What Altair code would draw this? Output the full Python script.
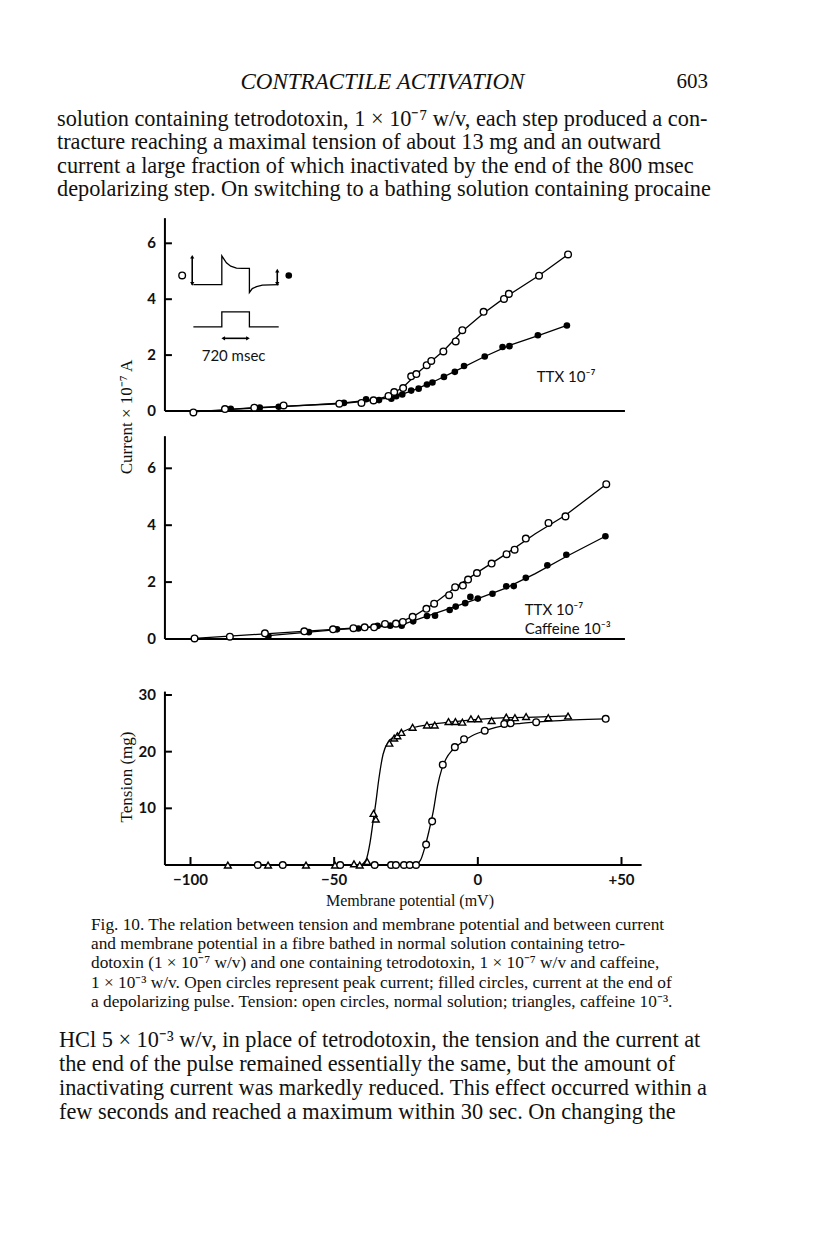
import altair as alt
import pandas as pd

# ---------------- data ----------------
# Top panel (TTX 1e-7): open = peak current, filled = current at end of pulse (x 1e-7 A)
top_open_x = [-99.0, -88.0, -77.8, -67.6, -48.2, -40.5, -36.3, -31.1, -29.1, -26.0, -23.2,
              -21.4, -17.8, -16.2, -12.0, -7.7, -5.4, 2.0, 9.1, 10.8, 21.3, 31.4]
top_open_y = [-0.05, 0.07, 0.12, 0.20, 0.26, 0.29, 0.38, 0.54, 0.68, 0.82, 1.24,
              1.32, 1.64, 1.79, 2.13, 2.49, 2.89, 3.55, 4.01, 4.19, 4.84, 5.60]
top_filled_x = [-86.0, -75.9, -69.3, -46.6, -38.9, -34.4, -30.1, -28.4, -26.3, -23.2, -20.6,
                -17.7, -15.8, -11.8, -8.0, -4.8, 2.4, 8.6, 11.0, 20.9, 31.0]
top_filled_y = [0.08, 0.12, 0.15, 0.29, 0.42, 0.39, 0.44, 0.53, 0.59, 0.73, 0.80,
                0.95, 1.02, 1.22, 1.40, 1.61, 1.95, 2.29, 2.32, 2.71, 3.06]
top_open_fit_x = [-99.0, -77.8, -48.2, -36.3, -31.1, -26.0, -20.0, -12.0, -5.4, 2.0, 10.0, 21.3, 31.4]
top_open_fit_y = [-0.03, 0.12, 0.26, 0.38, 0.54, 0.85, 1.45, 2.15, 2.85, 3.50, 4.10, 4.85, 5.60]
top_filled_fit_x = [-86.0, -69.3, -46.6, -38.9, -30.0, -23.0, -15.8, -8.0, 2.4, 11.0, 21.0, 31.0]
top_filled_fit_y = [0.06, 0.15, 0.29, 0.38, 0.47, 0.72, 1.03, 1.42, 1.95, 2.35, 2.70, 3.06]

# Middle panel (TTX 1e-7 + caffeine 1e-3)
mid_open_x = [-98.6, -86.3, -74.1, -60.4, -50.4, -43.3, -39.4, -36.1, -32.3, -28.5, -26.1, -22.7, -17.9,
              -15.2, -10.0, -7.9, -5.2, -3.4, -0.3, 4.8, 10.0, 12.8, 16.7, 24.6, 30.5, 44.7]
mid_open_y = [0.02, 0.08, 0.20, 0.27, 0.34, 0.38, 0.41, 0.41, 0.53, 0.54, 0.60, 0.78, 1.06,
              1.24, 1.54, 1.82, 1.88, 2.09, 2.32, 2.65, 2.98, 3.14, 3.53, 4.08, 4.31, 5.44]
mid_filled_x = [-72.9, -58.8, -49.0, -41.6, -34.9, -30.5, -26.5, -22.5, -17.7, -14.9, -9.8,
                -7.7, -4.4, -2.6, 0.0, 5.1, 9.9, 12.5, 16.7, 24.2, 30.8, 44.4]
mid_filled_y = [0.10, 0.24, 0.34, 0.37, 0.46, 0.47, 0.47, 0.62, 0.81, 0.82, 1.02,
                1.14, 1.26, 1.48, 1.42, 1.59, 1.85, 1.86, 2.15, 2.59, 2.96, 3.61]
mid_open_fit_x = [-98.6, -74.1, -50.4, -36.0, -28.5, -22.7, -15.2, -8.0, 0.0, 10.0, 20.0, 30.5, 44.7]
mid_open_fit_y = [0.02, 0.18, 0.34, 0.43, 0.55, 0.78, 1.25, 1.80, 2.35, 3.00, 3.70, 4.35, 5.44]
mid_filled_fit_x = [-72.9, -58.8, -49.0, -35.0, -26.5, -17.7, -7.7, 0.0, 10.0, 20.0, 30.8, 44.4]
mid_filled_fit_y = [0.12, 0.24, 0.33, 0.43, 0.50, 0.80, 1.15, 1.42, 1.80, 2.30, 2.90, 3.61]

# Bottom panel: tension (mg); circles = normal solution, triangles = caffeine 1e-3
norm_x = [-76.6, -67.9, -47.9, -35.9, -30.2, -28.5, -25.7, -23.7, -21.5, -18.0, -15.9, -12.2,
          -8.0, -4.8, 2.4, 9.2, 11.4, 20.3, 44.5]
norm_y = [0, 0, 0, 0, 0, 0, 0, 0, 0, 3.6, 7.7, 17.7, 20.8, 22.2, 23.7, 24.9, 25.0, 25.2, 25.8]
caf_x = [-87.0, -73.0, -59.8, -49.7, -43.1, -41.1, -38.5, -36.3, -35.5, -30.8, -29.1, -28.0, -26.6,
         -22.7, -17.7, -15.0, -10.2, -7.8, -5.4, -2.4, 0.2, 4.8, 9.9, 12.9, 16.8, 24.5, 31.4]
caf_y = [0, 0, 0, 0, 0.2, 0, 0.6, 9.1, 8.1, 21.5, 22.4, 22.8, 23.4,
         24.3, 24.7, 24.7, 25.3, 25.3, 25.2, 25.8, 25.8, 25.5, 26.1, 26.0, 26.2, 26.0, 26.3]
norm_fit_x = [-76.6, -22.0, -20.0, -18.5, -17.0, -15.5, -14.0, -12.5, -11.0, -9.0, -6.0, -2.0,
              3.0, 9.0, 15.0, 25.0, 44.5]
norm_fit_y = [0, 0, 0.8, 3.0, 6.0, 9.5, 14.0, 17.0, 18.8, 20.2, 21.5, 22.8, 23.8, 24.6, 25.0, 25.4, 25.8]
caf_fit_x = [-87.0, -41.0, -39.0, -37.5, -36.5, -35.5, -34.5, -33.0, -31.0, -28.0, -24.0, -18.0,
             -10.0, 0.0, 10.0, 20.0, 31.4]
caf_fit_y = [0, 0, 0.8, 4.0, 7.5, 11.0, 15.0, 19.5, 21.8, 23.0, 24.0, 24.7, 25.2, 25.7, 26.0, 26.1, 26.3]

# Inset schematic (top panel, in plot units)
trace_x = [-99.0, -89.1, -89.1, -87.5, -86.0, -84.0, -82.0, -79.5, -79.5, -78.5, -77.0, -75.0, -69.3]
trace_y = [4.52, 4.52, 5.55, 5.30, 5.18, 5.11, 5.10, 5.10, 4.24, 4.38, 4.45, 4.50, 4.52]
pulse_x = [-99.0, -89.1, -89.1, -79.5, -79.5, -69.3]
pulse_y = [3.01, 3.01, 3.55, 3.55, 3.01, 3.01]

# Axes
x_ticks = [-100, -50, 0, 50]
x_tick_labels = ["\u2212100", "\u221250", "0", "+50"]
current_ticks = [0, 2, 4, 6]
tension_ticks = [10, 20, 30]

header_title = "CONTRACTILE ACTIVATION"
page_number = "603"
body_top = [
    "solution containing tetrodotoxin, 1 \u00d7 10\u207b\u2077 w/v, each step produced a con-",
    "tracture reaching a maximal tension of about 13 mg and an outward",
    "current a large fraction of which inactivated by the end of the 800 msec",
    "depolarizing step. On switching to a bathing solution containing procaine",
]
caption = [
    "Fig. 10.  The relation between tension and membrane potential and between current",
    "and membrane potential in a fibre bathed in normal solution containing tetro-",
    "dotoxin (1 \u00d7 10\u207b\u2077 w/v) and one containing tetrodotoxin, 1 \u00d7 10\u207b\u2077 w/v and caffeine,",
    "1 \u00d7 10\u207b\u00b3 w/v. Open circles represent peak current; filled circles, current at the end of",
    "a depolarizing pulse. Tension: open circles, normal solution; triangles, caffeine 10\u207b\u00b3.",
]
body_bottom = [
    "HCl 5 \u00d7 10\u207b\u00b3 w/v, in place of tetrodotoxin, the tension and the current at",
    "the end of the pulse remained essentially the same, but the amount of",
    "inactivating current was markedly reduced. This effect occurred within a",
    "few seconds and reached a maximum within 30 sec. On changing the",
]

# ---------------- layout / styles ----------------
SERIF = "Liberation Serif"
SANS = "Lato"
AX_MIN = -108.9
X_SCALE = alt.Scale(domain=[-100, 50], range=[182.5, 613.5], nice=False, zero=False)


def X(field="x"):
    return alt.X(f"{field}:Q", scale=X_SCALE, axis=None)


def Ysc(domain, rng):
    return alt.Scale(domain=domain, range=rng, nice=False, zero=False)


def df(x, y):
    return pd.DataFrame({"x": x, "y": y})


def line(x, y, Y, interp="linear"):
    d = df(x, y)
    d["i"] = range(len(d))
    return alt.Chart(d).mark_line(color="black", strokeWidth=1.3, interpolate=interp).encode(
        x=X(), y=Y, order=alt.Order("i:Q"))


def open_pts(x, y, Y, shape="circle", size=44):
    return alt.Chart(df(x, y)).mark_point(shape=shape, filled=True, fill="white", stroke="black",
                                          strokeWidth=1.4, size=size, opacity=1).encode(x=X(), y=Y)


def filled_pts(x, y, Y):
    return alt.Chart(df(x, y)).mark_point(shape="circle", filled=True, color="black",
                                          size=44, opacity=1).encode(x=X(), y=Y)


def frame(Y, ymax, xmax, ticks, labels, tick_ticks):
    fr = pd.DataFrame({"x": [AX_MIN, AX_MIN], "x2": [AX_MIN, xmax], "y": [0, 0], "y2": [ymax, 0]})
    axes = alt.Chart(fr).mark_rule(color="black", strokeWidth=2).encode(
        x=X(), x2="x2:Q", y=Y, y2="y2:Q")
    tk = pd.DataFrame({"x": [AX_MIN] * len(tick_ticks), "y": tick_ticks})
    tmarks = alt.Chart(tk).mark_rule(color="black", strokeWidth=2, x2Offset=7).encode(
        x=X(), x2=alt.X2("x:Q"), y=Y)
    lb = pd.DataFrame({"x": [AX_MIN] * len(ticks), "y": ticks, "t": labels})
    tlabels = alt.Chart(lb).mark_text(align="right", baseline="middle", dx=-9, font=SANS,
                                      fontSize=15, fontWeight="bold", color="#111").encode(
        x=X(), y=Y, text="t:N")
    return [axes, tmarks, tlabels]


def note(x, y, text, Y, size=14, align="left"):
    d = pd.DataFrame({"x": [x], "y": [y], "t": [text]})
    return alt.Chart(d).mark_text(align=align, baseline="middle", font=SANS, fontSize=size,
                                  color="#111").encode(x=X(), y=Y, text="t:N")


def arrowheads(xs, ys, shapes, Y):
    d = pd.DataFrame({"x": xs, "y": ys, "s": shapes})
    return alt.Chart(d).mark_point(filled=True, color="black", size=18, opacity=1).encode(
        x=X(), y=Y, shape=alt.Shape("s:N", scale=None, legend=None))


def seg(x1, y1, x2, y2, Y):
    d = pd.DataFrame({"x": [x1], "x2": [x2], "y": [y1], "y2": [y2]})
    return alt.Chart(d).mark_rule(color="black", strokeWidth=1.6).encode(x=X(), x2="x2:Q", y=Y, y2="y2:Q")


# ---------------- top panel ----------------
Yt = alt.Y("y:Q", scale=Ysc([0, 6], [403, 235.3]), axis=None)
top = alt.layer(
    *frame(Yt, 6.9, 51.2, current_ticks, [str(t) for t in current_ticks], [2, 4, 6]),
    line(top_open_fit_x, top_open_fit_y, Yt),
    line(top_filled_fit_x, top_filled_fit_y, Yt),
    filled_pts(top_filled_x, top_filled_y, Yt),
    open_pts(top_open_x, top_open_y, Yt),
    line(trace_x, trace_y, Yt),
    line(pulse_x, pulse_y, Yt),
    seg(-99.4, 4.52, -99.4, 5.5, Yt),
    seg(-69.8, 4.55, -69.8, 5.0, Yt),
    seg(-88.6, 2.6, -80.0, 2.6, Yt),
    arrowheads([-99.4, -99.4, -69.8, -69.8, -88.6, -80.0], [5.52, 4.55, 5.02, 4.55, 2.6, 2.6],
               ["triangle-up", "triangle-down", "triangle-up", "triangle-down", "triangle-left",
                "triangle-right"], Yt),
    open_pts([-102.9], [4.85], Yt),
    filled_pts([-65.8], [4.85], Yt),
    note(-85.0, 1.98, "720 msec", Yt, align="center", size=15),
    note(20.5, 1.23, "TTX 10\u207b\u2077", Yt, size=15),
)

# ---------------- middle panel ----------------
Ym = alt.Y("y:Q", scale=Ysc([0, 6], [631, 460.3]), axis=None)
mid = alt.layer(
    *frame(Ym, 7.13, 51.2, current_ticks, [str(t) for t in current_ticks], [2, 4, 6]),
    line(mid_open_fit_x, mid_open_fit_y, Ym),
    line(mid_filled_fit_x, mid_filled_fit_y, Ym),
    filled_pts(mid_filled_x, mid_filled_y, Ym),
    open_pts(mid_open_x, mid_open_y, Ym),
    note(16.3, 1.02, "TTX 10\u207b\u2077", Ym, size=15),
    note(16.3, 0.34, "Caffeine 10\u207b\u00b3", Ym, size=15),
)

# ---------------- bottom panel ----------------
Yb = alt.Y("y:Q", scale=Ysc([0, 30], [857, 687]), axis=None)
xt = pd.DataFrame({"x": x_ticks, "y": [0] * len(x_ticks), "t": x_tick_labels})
bot = alt.layer(
    *frame(Yb, 30.6, 57.0, tension_ticks, [str(t) for t in tension_ticks], tension_ticks),
    alt.Chart(xt).mark_rule(color="black", strokeWidth=2, y2Offset=-8).encode(x=X(), y=Yb, y2=alt.Y2("y:Q")),
    alt.Chart(xt).mark_text(baseline="middle", dy=15, font=SANS, fontSize=15, fontWeight="bold",
                            color="#111").encode(x=X(), y=Yb, text="t:N"),
    line(caf_fit_x, caf_fit_y, Yb, "monotone"),
    line(norm_fit_x, norm_fit_y, Yb, "monotone"),
    open_pts(caf_x, caf_y, Yb, shape="triangle-up", size=46),
    open_pts(norm_x, norm_y, Yb),
)

# ---------------- page text ----------------
one = alt.Data(values=[{}])


def ptext(s, x, y, size, align="left", style="normal", angle=0, font=SERIF):
    return alt.Chart(one).mark_text(text=s, align=align, baseline="middle", font=font, fontSize=size,
                                    fontStyle=style, angle=angle, color="#111").encode(
        x=alt.value(x), y=alt.value(y))


texts = [
    ptext(header_title, 374.5, 74, 23, align="center", style="italic"),
    ptext(page_number, 700, 74, 21, align="right"),
    ptext("Current \u00d7 10\u207b\u2077 A", 119, 409, 17, align="center", angle=270),
    ptext("Tension (mg)", 119, 769, 17, align="center", angle=270),
    ptext("Membrane potential (mV)", 402, 893, 16, align="center"),
]
for i, s in enumerate(body_top):
    texts.append(ptext(s, 49, 111 + i * 23.3, 22.3))
for i, s in enumerate(caption):
    texts.append(ptext(s, 83, 917 + i * 19.2, 17.3))
for i, s in enumerate(body_bottom):
    texts.append(ptext(s, 51, 1032 + i * 24.1, 22.3))

chart = alt.layer(top, mid, bot, *texts).resolve_scale(y="independent").properties(
    width=800, height=1240, autosize="none", padding=0, background="white"
).configure_view(stroke=None)

chart.save("out.html", embed_options={"renderer": "svg", "actions": False})
